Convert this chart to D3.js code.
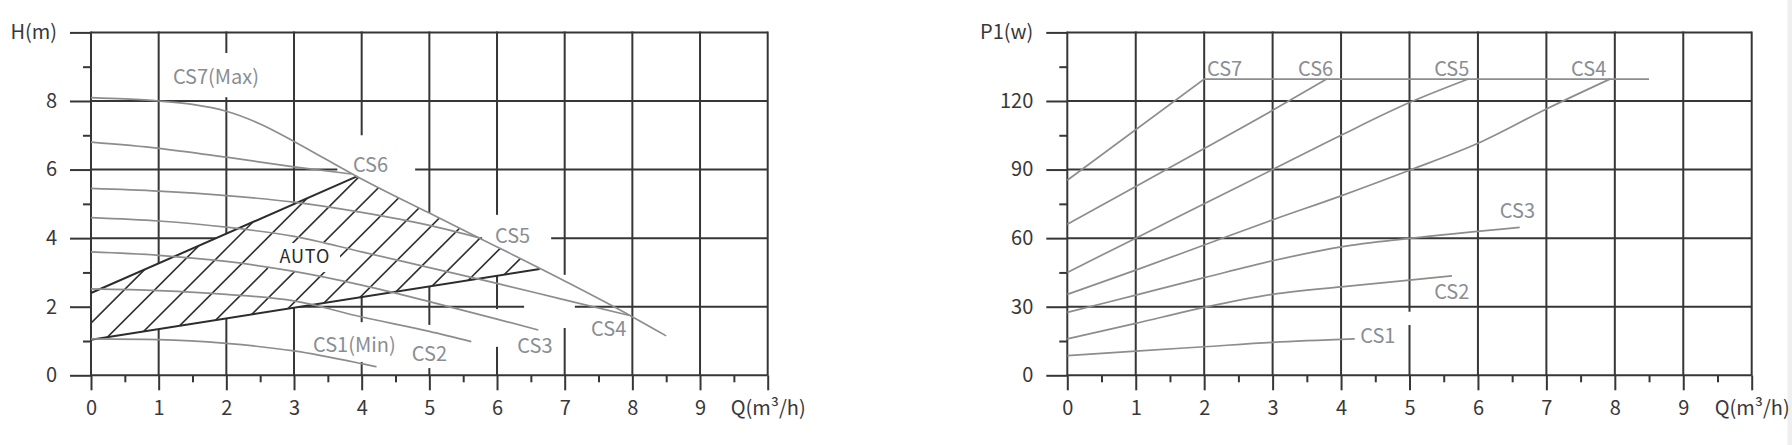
<!DOCTYPE html>
<html><head><meta charset="utf-8">
<script src="https://cdn.jsdelivr.net/npm/d3@7"></script>
<style>
html,body{margin:0;padding:0;background:#fff;}
svg{display:block;}
text{font-family:"Noto Sans CJK SC","Noto Sans",sans-serif;}
</style></head><body>
<svg id="chart" width="1792" height="445"></svg>
<script>
// ---------------- data ----------------
const qTicks = [0,1,2,3,4,5,6,7,8,9,10];
const qTickLabels = ["0","1","2","3","4","5","6","7","8","9","Q(m³/h)"];
const qMinorTicks = [0.5,1.5,2.5,3.5,4.5,5.5,6.5,7.5,8.5,9.5];
const hTicks = [0,2,4,6,8,10];
const hTickLabels = ["0","2","4","6","8","H(m)"];
const hMinorTicks = [1,3,5,7,9];
const pTicks = [0,30,60,90,120,150];
const pTickLabels = ["0","30","60","90","120","P1(w)"];
const pMinorTicks = [15,45,75,105,135];

// head curves H(m) vs Q(m3/h)
const headCS7 = [[0,8.1],[0.5,8.06],[1,8.0],[1.5,7.9],[2,7.7],[2.5,7.33],[3,6.82],[3.5,6.27],[3.93,5.8],[5,4.73],[5.75,3.99],[7,2.75],[7.97,1.74],[8.5,1.15]];
const headCS6 = [[0,6.8],[1,6.62],[2,6.36],[3,6.08],[3.85,5.87]];
const headCS5 = [[0,5.45],[1,5.37],[2,5.24],[3,5.05],[4,4.75],[5,4.37],[5.75,4.0]];
const headCS4 = [[0,4.6],[1,4.5],[2,4.32],[3,4.05],[4,3.6],[5,3.14],[6,2.68],[7,2.2],[7.95,1.75]];
const headCS3 = [[0,3.6],[1,3.5],[2,3.32],[3,3.03],[4,2.63],[5,2.15],[6,1.64],[6.61,1.32]];
const headCS2 = [[0,2.52],[1,2.47],[2,2.36],[3,2.17],[4,1.7],[5,1.28],[5.62,0.98]];
const headCS1 = [[0,1.06],[1,1.04],[2,0.93],[3,0.71],[4,0.34],[4.22,0.25]];
const autoTop = [[0,2.4],[3.93,5.8]];
const autoBottom = [[0,1.04],[6.63,3.1]];

// power curves P1(w) vs Q(m3/h)
const powerCS7 = [[0,85.3],[2,129.6],[8.5,129.6]];
const powerCS6 = [[0,66.1],[1,82.6],[2,99.2],[3,115.9],[3.79,129.6]];
const powerCS5 = [[0,45],[1,60],[2,75],[3,90],[4,105],[5,119.3],[5.86,129.6]];
const powerCS4 = [[0,35.4],[1,46],[2,57],[3,68],[4,78.5],[5,89.7],[6,101.5],[7,116.5],[7.93,129.6]];
const powerCS3 = [[0,27.5],[1,35.1],[2,42.7],[3,50.1],[4,56.2],[5,59.9],[6.61,64.7]];
const powerCS2 = [[0,15.9],[1,22.7],[2,29.7],[3,35.4],[4,38.7],[5,41.6],[5.62,43.5]];
const powerCS1 = [[0,8.6],[1,10.6],[2,12.5],[3,14.4],[4.2,15.9]];

const headLabels = [["CS7(Max)",1.21,8.49],["CS6",3.87,5.93],["CS5",5.97,3.87],["CS4",7.39,1.15],["CS3",6.3,0.65],["CS2",4.74,0.42],["CS1(Min)",3.28,0.68]];
const powerLabels = [["CS7",2.04,130.8],["CS6",3.37,130.8],["CS5",5.36,130.8],["CS4",7.36,130.8],["CS3",6.32,68.7],["CS2",5.36,33.3],["CS1",4.28,14.1]];

// ---------------- drawing ----------------
const svg = d3.select("#chart");
const gridColor = "#363636";
const curveColor = "#8d8d8d";
const labelColor = "#898e94";
const textColor = "#383838";

svg.append("rect").attr("x",1787.5).attr("y",0).attr("width",4.5).attr("height",445).attr("fill","#efefef");

const xL = d3.scaleLinear().domain([0,10]).range([91,767.7]);
const yL = d3.scaleLinear().domain([0,10]).range([375.3,32.4]);
const xR = d3.scaleLinear().domain([0,10]).range([1067.3,1751.7]);
const yR = d3.scaleLinear().domain([0,150]).range([375.3,32.4]);

function panel(x, y, yTicks, yLabels, yMinor) {
  const g = svg.append("g");
  const grid = g.append("g").attr("stroke", gridColor).attr("stroke-width", 2);
  grid.selectAll("line.h").data(yTicks).join("line").attr("class","h")
    .attr("x1", x.range()[0]).attr("x2", x.range()[1])
    .attr("y1", d=>y(d)).attr("y2", d=>y(d));
  grid.selectAll("line.v").data(qTicks).join("line").attr("class","v")
    .attr("x1", d=>x(d)).attr("x2", d=>x(d))
    .attr("y1", y(y.domain()[1])-1).attr("y2", y(0));
  const ax = g.append("g").attr("transform",`translate(0,${y(0)})`)
    .call(d3.axisBottom(x).tickValues(qTicks).tickSize(15).tickPadding(11).tickFormat((d,i)=>qTickLabels[i]));
  const axm = g.append("g").attr("transform",`translate(0,${y(0)})`)
    .call(d3.axisBottom(x).tickValues(qMinorTicks).tickSize(7).tickFormat(""));
  const ay = g.append("g").attr("transform",`translate(${x(0)},0)`)
    .call(d3.axisLeft(y).tickValues(yTicks).tickSize(21).tickPadding(13).tickFormat((d,i)=>yLabels[i]));
  const aym = g.append("g").attr("transform",`translate(${x(0)},0)`)
    .call(d3.axisLeft(y).tickValues(yMinor).tickSize(8).tickFormat(""));
  [ax,axm,ay,aym].forEach(a=>{
    a.select(".domain").remove();
    a.selectAll("line").attr("stroke", gridColor).attr("stroke-width", 2);
    a.selectAll("text").attr("fill", textColor).attr("font-size", 20)
      .attr("font-family", '"Noto Sans CJK SC","Noto Sans",sans-serif');
  });
  return g;
}

function maskRects(g, x, y, boxes) {
  g.append("g").selectAll("rect").data(boxes).join("rect")
    .attr("x", d=>x(d[0])).attr("width", d=>x(d[1])-x(d[0]))
    .attr("y", d=>y(d[2])).attr("height", d=>y(d[3])-y(d[2]))
    .attr("fill", "#fff");
}

function curves(g, x, y, series, linearIdx) {
  series.forEach((s,i)=>{
    const line = d3.line().x(d=>x(d[0])).y(d=>y(d[1]))
      .curve(i===linearIdx ? d3.curveLinear : d3.curveMonotoneX);
    g.append("path").attr("d", line(s)).attr("fill","none")
      .attr("stroke", curveColor).attr("stroke-width", 1.7);
  });
}

function labels(g, x, y, labs) {
  g.append("g").selectAll("text").data(labs).join("text")
    .attr("x", d=>x(d[1])).attr("y", d=>y(d[2]))
    .attr("font-size", 20).attr("fill", labelColor).text(d=>d[0]);
}

// ---- left panel ----
const gl = panel(xL, yL, hTicks, hTickLabels, hMinorTicks);
maskRects(gl, xL, yL, [
  [1.11,2.79,9.4,8.11],[3.64,4.79,7.0,5.69],[5.78,6.8,4.68,3.3],[6.4,7.15,2.93,1.38],
  [5.82,6.38,1.93,0.83],[4.64,5.38,1.47,0.21],[3.16,4.57,1.55,0.39]
]);

// AUTO region
const autoPoly = [...autoBottom,
  ...headCS7.filter(d=>d[0]>autoTop[1][0] && d[0]<autoBottom[1][0]).reverse(),
  ...autoTop.slice().reverse()];
const polyPts = autoPoly.map(d=>[xL(d[0]), yL(d[1])]);
svg.append("defs").append("clipPath").attr("id","autoClip")
  .append("polygon").attr("points", polyPts.map(p=>p.join(",")).join(" "));
gl.append("polygon").attr("points", polyPts.map(p=>p.join(",")).join(" ")).attr("fill","#fff");
const hatchG = gl.append("g").attr("clip-path","url(#autoClip)");
const c0 = xL(0) + yL(1.52), spacing = 30.4;
const cMax = d3.max(polyPts, p=>p[0]+p[1]);
const cs = d3.range(c0, cMax, spacing);
hatchG.selectAll("line").data(cs).join("line")
  .attr("x1", c=>c-500).attr("y1", 500).attr("x2", c=>c).attr("y2", 0)
  .attr("stroke", "#2c2c2c").attr("stroke-width", 1.6);
maskRects(gl, xL, yL, [[2.62,3.68,3.86,3.01]]);
gl.append("line").attr("x1", xL(0)).attr("x2", xL(0)).attr("y1", yL(10)).attr("y2", yL(0))
  .attr("stroke", gridColor).attr("stroke-width", 2);
[autoTop, autoBottom].forEach(s=>{
  gl.append("path").attr("d", d3.line().x(d=>xL(d[0])).y(d=>yL(d[1]))(s))
    .attr("fill","none").attr("stroke","#2c2c2c").attr("stroke-width",2);
});
curves(gl, xL, yL, [headCS7, headCS6, headCS5, headCS4, headCS3, headCS2, headCS1], -1);
labels(gl, xL, yL, headLabels);
gl.append("text").attr("x", xL(3.16)).attr("y", yL(3.27)).attr("text-anchor","middle")
  .attr("font-size", 18).attr("font-weight", 400).attr("letter-spacing", 0.8)
  .attr("fill", "#2a2a2a").text("AUTO");

// ---- right panel ----
const gr = panel(xR, yR, pTicks, pTickLabels, pMinorTicks);
maskRects(gr, xR, yR, [[4.93,5.07,27.8,22.0]]);
curves(gr, xR, yR, [powerCS7, powerCS6, powerCS5, powerCS4, powerCS3, powerCS2, powerCS1], 0);
labels(gr, xR, yR, powerLabels);
</script>
</body></html>
